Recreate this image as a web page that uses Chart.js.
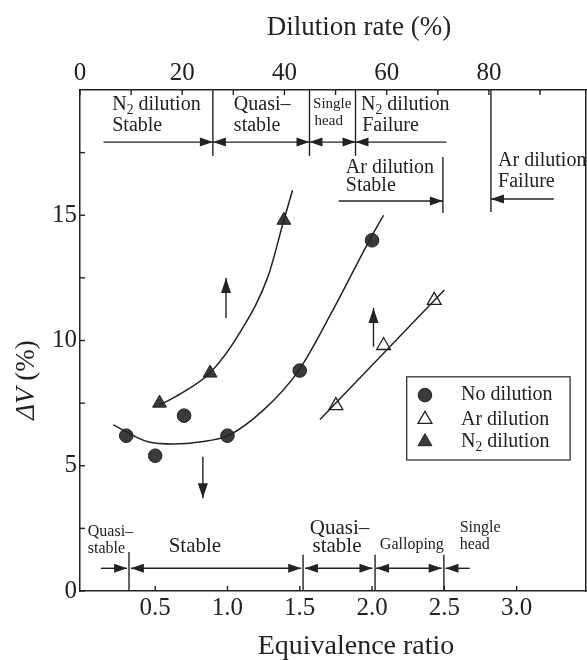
<!DOCTYPE html>
<html><head><meta charset="utf-8">
<script src="https://cdn.jsdelivr.net/npm/chart.js@4"></script>
<style>
html,body{margin:0;padding:0;background:#fff;overflow:hidden;}
#wrap{position:relative;width:600px;height:660px;}
</style></head><body>
<div id="wrap"><canvas id="c" width="600" height="660"></canvas></div>
<script>
// ---- data ----
const noDilEq = [0.3, 0.5, 0.7, 1.0, 1.5, 2.0];
const noDilDV = [6.2, 5.4, 7.0, 6.2, 8.8, 14.0];
const arEq = [1.75, 2.08, 2.43];
const arDV = [7.4, 9.8, 11.6];
const n2Eq = [0.53, 0.88, 1.39];
const n2DV = [7.5, 8.7, 14.8];
// hand-drawn trend curves
const noDilCurveEq = [0.21, 0.45, 0.63, 0.82, 1.0, 1.25, 1.49, 1.73, 1.98, 2.08];
const noDilCurveDV = [6.63, 5.96, 5.87, 5.96, 6.19, 7.23, 8.78, 11.22, 13.98, 15.0];
const n2CurveEq = [0.53, 0.68, 0.88, 1.09, 1.28, 1.39, 1.45];
const n2CurveDV = [7.42, 7.89, 8.71, 10.35, 12.55, 14.8, 16.0];
const arLineEq = [1.64, 2.50];
const arLineDV = [6.85, 12.02];
// tick labels
const eqTicks = [0.5, 1.0, 1.5, 2.0, 2.5, 3.0];
const dilTicks = [0, 20, 40, 60, 80];
const dilMinor = [10, 30, 50, 70, 90];
const dvTicks = [0, 5, 10, 15];
const dvMinor = [2.5, 7.5, 12.5, 17.5];

const F = '"Liberation Serif", "Times New Roman", serif';
const INK = '#222';
const pts = (xs, ys) => xs.map((x, i) => ({x: x, y: ys[i]}));

function drawRich(ctx, parts, x, y, size, align) {
  ctx.textBaseline = 'middle';
  ctx.textAlign = 'left';
  let w = 0;
  const items = parts.map(p => {
    const sub = typeof p !== 'string';
    const s = sub ? size * 0.68 : size;
    ctx.font = s + 'px ' + F;
    const t = sub ? p.sub : p;
    const m = ctx.measureText(t).width;
    w += m;
    return {t, s, sub, m};
  });
  let cx = align === 'center' ? x - w / 2 : x;
  items.forEach(it => {
    ctx.font = it.s + 'px ' + F;
    ctx.fillText(it.t, cx, it.sub ? y + size * 0.28 : y);
    cx += it.m;
  });
}
function head(ctx, x, y, dir, len, hw) {
  ctx.beginPath();
  if (dir === 'r') { ctx.moveTo(x, y); ctx.lineTo(x - len, y - hw); ctx.lineTo(x - len, y + hw); }
  if (dir === 'l') { ctx.moveTo(x, y); ctx.lineTo(x + len, y - hw); ctx.lineTo(x + len, y + hw); }
  if (dir === 'u') { ctx.moveTo(x, y); ctx.lineTo(x - hw, y + len); ctx.lineTo(x + hw, y + len); }
  if (dir === 'd') { ctx.moveTo(x, y); ctx.lineTo(x - hw, y - len); ctx.lineTo(x + hw, y - len); }
  ctx.closePath(); ctx.fill();
}
function line(ctx, x1, y1, x2, y2) {
  ctx.beginPath(); ctx.moveTo(x1, y1); ctx.lineTo(x2, y2); ctx.stroke();
}
// horizontal arrow from xa to xb, heads: 'end', 'both'
function hArrow(ctx, xa, xb, y, heads) {
  line(ctx, xa, y, xb, y);
  const dEnd = xb > xa ? 'r' : 'l';
  head(ctx, xb, y, dEnd, 13, 4.5);
  if (heads === 'both') head(ctx, xa, y, dEnd === 'r' ? 'l' : 'r', 13, 4.5);
}
function vArrow(ctx, x, ya, yb) {
  line(ctx, x, ya, x, yb);
  head(ctx, x, yb, yb < ya ? 'u' : 'd', 15, 5);
}

const decor = {
  id: 'decor',
  afterDraw(chart) {
    const ctx = chart.ctx;
    const X = v => chart.scales.x.getPixelForValue(v);
    const X2 = v => chart.scales.x2.getPixelForValue(v);
    const Y = v => chart.scales.y.getPixelForValue(v);
    const ca = chart.chartArea;
    ctx.save();
    ctx.strokeStyle = INK; ctx.fillStyle = INK; ctx.lineWidth = 1.4;

    // inward tick marks
    eqTicks.forEach(v => line(ctx, X(v), ca.bottom, X(v), ca.bottom - 5));
    dilTicks.concat(dilMinor).forEach(v => line(ctx, X2(v), ca.top, X2(v), ca.top + 5));
    dvTicks.concat(dvMinor).forEach(v => line(ctx, ca.left, Y(v), ca.left + 5, Y(v)));

    // ---- top (dilution) annotations ----
    [26.0, 44.9, 53.9].forEach(v => line(ctx, X2(v), Y(20), X2(v), Y(17.37)));
    hArrow(ctx, X2(4.6), X2(26.0), Y(17.92), 'end');
    hArrow(ctx, X2(26.0), X2(44.9), Y(17.92), 'both');
    hArrow(ctx, X2(44.9), X2(53.9), Y(17.92), 'both');
    hArrow(ctx, X2(71.7), X2(53.9), Y(17.92), 'end');
    drawRich(ctx, ['N', {sub: '2'}, ' dilution'], X2(6.3), Y(19.40), 20);
    drawRich(ctx, ['Stable'], X2(6.3), Y(18.56), 20);
    drawRich(ctx, ['Quasi–'], X2(30.1), Y(19.40), 20);
    drawRich(ctx, ['stable'], X2(30.1), Y(18.56), 20);
    drawRich(ctx, ['Single'], X2(45.6), Y(19.44), 15);
    drawRich(ctx, ['head'], X2(45.9), Y(18.76), 15);
    drawRich(ctx, ['N', {sub: '2'}, ' dilution'], X2(55.0), Y(19.40), 20);
    drawRich(ctx, ['Failure'], X2(55.2), Y(18.56), 20);
    // Ar dilution stable
    line(ctx, X2(71.0), Y(17.33), X2(71.0), Y(15.09));
    hArrow(ctx, X2(50.6), X2(71.0), Y(15.57), 'end');
    drawRich(ctx, ['Ar dilution'], X2(52.0), Y(16.89), 20);
    drawRich(ctx, ['Stable'], X2(52.0), Y(16.17), 20);
    // Ar dilution failure
    line(ctx, X2(80.4), Y(20), X2(80.4), Y(15.13));
    hArrow(ctx, X2(92.7), X2(80.4), Y(15.65), 'end');
    drawRich(ctx, ['Ar dilution'], X2(81.8), Y(17.17), 20);
    drawRich(ctx, ['Failure'], X2(81.8), Y(16.33), 20);

    // ---- bottom (equivalence ratio) annotations ----
    line(ctx, X(0.319), Y(0), X(0.319), Y(1.56));
    [1.523, 2.021, 2.497].forEach(v => line(ctx, X(v), Y(0), X(v), Y(1.45)));
    hArrow(ctx, X(0.124), X(0.306), Y(0.906), 'end');
    hArrow(ctx, X(0.332), X(1.510), Y(0.906), 'both');
    hArrow(ctx, X(1.536), X(2.003), Y(0.906), 'both');
    hArrow(ctx, X(2.028), X(2.482), Y(0.906), 'both');
    hArrow(ctx, X(2.676), X(2.508), Y(0.906), 'end');
    drawRich(ctx, ['Quasi–'], X(0.034), Y(2.37), 16);
    drawRich(ctx, ['stable'], X(0.034), Y(1.70), 16);
    drawRich(ctx, ['Stable'], X(0.775), Y(1.77), 21, 'center');
    drawRich(ctx, ['Quasi–'], X(1.57), Y(2.51), 21);
    drawRich(ctx, ['stable'], X(1.588), Y(1.77), 21);
    drawRich(ctx, ['Galloping'], X(2.054), Y(1.84), 16);
    drawRich(ctx, ['Single'], X(2.606), Y(2.51), 16);
    drawRich(ctx, ['head'], X(2.606), Y(1.84), 16);

    // ---- trend arrows in plot ----
    vArrow(ctx, X(0.99), Y(10.9), Y(12.5));
    vArrow(ctx, X(2.01), Y(9.75), Y(11.3));
    vArrow(ctx, X(0.83), Y(5.36), Y(3.7));

    // ---- legend ----
    const lx1 = X(2.24), lx2 = X(3.37), ly1 = Y(8.55), ly2 = Y(5.23);
    ctx.lineWidth = 1.2;
    ctx.fillStyle = '#fff';
    ctx.fillRect(lx1, ly1, lx2 - lx1, ly2 - ly1);
    ctx.strokeRect(lx1, ly1, lx2 - lx1, ly2 - ly1);
    const rows = [7.82, 6.85, 5.96];
    const legendSets = [3, 4, 5];
    const names = [['No dilution'], ['Ar dilution'], ['N', {sub: '2'}, ' dilution']];
    legendSets.forEach((di, i) => {
      const ds = chart.data.datasets[di];
      ctx.fillStyle = ds.backgroundColor; ctx.strokeStyle = ds.borderColor;
      ctx.lineWidth = ds.borderWidth;
      Chart.helpers.drawPoint(ctx, {pointStyle: ds.pointStyle, radius: ds.pointRadius, rotation: 0, borderWidth: ds.borderWidth}, X(2.366), Y(rows[i]));
      ctx.fillStyle = INK;
      drawRich(ctx, names[i], X(2.615), Y(rows[i]), 20);
    });

    // ---- axis titles ----
    ctx.fillStyle = INK;
    drawRich(ctx, ['Dilution rate (%)'], 359, 28, 27, 'center');
    drawRich(ctx, ['Equivalence ratio'], 356, 647, 28, 'center');
    ctx.translate(27, 380);
    ctx.rotate(-Math.PI / 2);
    ctx.textBaseline = 'middle'; ctx.textAlign = 'left';
    ctx.font = 'italic 27px ' + F;
    const w1 = ctx.measureText('ΔV').width;
    ctx.font = '27px ' + F;
    const w2 = ctx.measureText(' (%)').width;
    ctx.font = 'italic 27px ' + F;
    ctx.fillText('ΔV', -(w1 + w2) / 2, 0);
    ctx.font = '27px ' + F;
    ctx.fillText(' (%)', -(w1 + w2) / 2 + w1, 0);
    ctx.restore();
  }
};

const tickFont = {family: F, size: 25};
new Chart(document.getElementById('c'), {
  type: 'scatter',
  data: {
    datasets: [
      {label: 'No dilution trend', data: pts(noDilCurveEq, noDilCurveDV), showLine: true, pointRadius: 0,
       borderColor: INK, borderWidth: 1.5, cubicInterpolationMode: 'monotone', xAxisID: 'x', yAxisID: 'y'},
      {label: 'N2 dilution trend', data: pts(n2CurveEq, n2CurveDV), showLine: true, pointRadius: 0,
       borderColor: INK, borderWidth: 1.5, cubicInterpolationMode: 'monotone', xAxisID: 'x', yAxisID: 'y'},
      {label: 'Ar dilution trend', data: pts(arLineEq, arLineDV), showLine: true, pointRadius: 0,
       borderColor: INK, borderWidth: 1.5, xAxisID: 'x', yAxisID: 'y'},
      {label: 'No dilution', data: pts(noDilEq, noDilDV), pointStyle: 'circle', pointRadius: 6.8,
       backgroundColor: '#3b3b3b', borderColor: '#222', borderWidth: 1, xAxisID: 'x', yAxisID: 'y'},
      {label: 'Ar dilution', data: pts(arEq, arDV), pointStyle: 'triangle', pointRadius: 8,
       backgroundColor: '#ffffff', borderColor: '#222', borderWidth: 1.3, xAxisID: 'x', yAxisID: 'y'},
      {label: 'N2 dilution', data: pts(n2Eq, n2DV), pointStyle: 'triangle', pointRadius: 8,
       backgroundColor: '#3b3b3b', borderColor: '#222', borderWidth: 1, xAxisID: 'x', yAxisID: 'y'}
    ]
  },
  options: {
    responsive: false, animation: false, devicePixelRatio: 1,
    layout: {padding: 0},
    plugins: {legend: {display: false}, tooltip: {enabled: false}},
    scales: {
      x: {type: 'linear', position: 'bottom', min: -0.02, max: 3.48,
          afterBuildTicks: s => { s.ticks = eqTicks.map(v => ({value: v})); },
          ticks: {font: tickFont, color: INK, padding: 2, callback: v => v.toFixed(1)},
          grid: {display: false, drawTicks: false}, border: {display: true, color: INK, width: 1.5},
          afterFit: s => { s.height = 69; }},
      x2: {type: 'linear', position: 'top', min: 0, max: 99,
          afterBuildTicks: s => { s.ticks = dilTicks.map(v => ({value: v})); },
          ticks: {font: tickFont, color: INK, padding: 2},
          grid: {display: false, drawTicks: false}, border: {display: true, color: INK, width: 1.5},
          afterFit: s => { s.height = 90; }},
      y: {type: 'linear', position: 'left', min: 0, max: 20,
          afterBuildTicks: s => { s.ticks = dvTicks.map(v => ({value: v})); },
          ticks: {font: tickFont, color: INK, padding: 3},
          grid: {display: false, drawTicks: false}, border: {display: true, color: INK, width: 1.5},
          afterFit: s => { s.width = 80; }},
      y2: {type: 'linear', position: 'right', min: 0, max: 20,
          ticks: {display: false},
          grid: {display: false, drawTicks: false}, border: {display: true, color: INK, width: 1.5},
          afterFit: s => { s.width = 14; }}
    }
  },
  plugins: [decor]
});
</script>
</body></html>
